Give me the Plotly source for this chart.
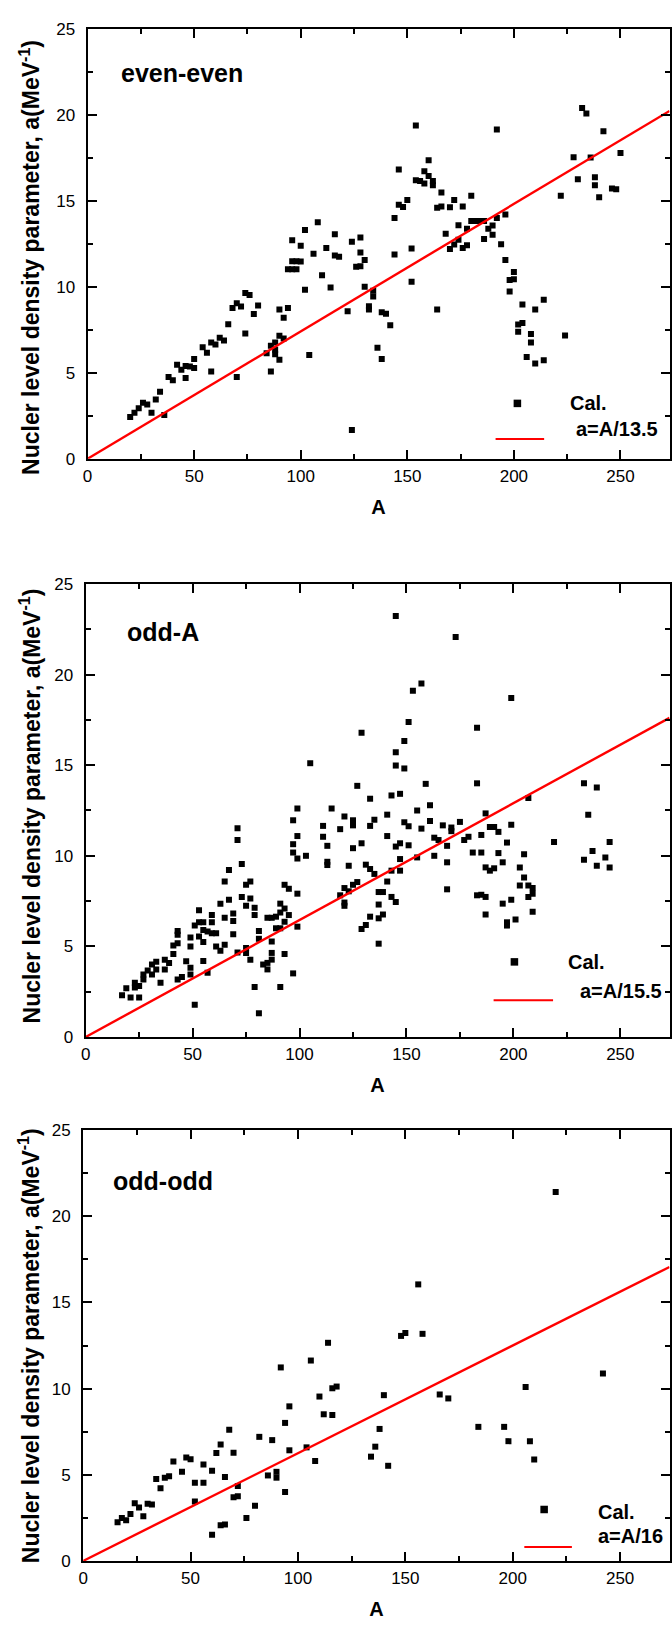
import plotly.graph_objects as go

# ---------------- data ----------------
ee_A = [20, 22, 24, 26, 28, 30, 32, 34, 36, 38, 40, 42, 44, 46, 46, 48, 50, 50, 54, 56,
        58, 58, 60, 62, 64, 66, 68, 70, 70, 72, 74, 74, 76, 78, 80, 84, 86, 86, 88, 88,
        88, 90, 90, 92, 90, 92, 94, 104, 122, 124, 132, 132, 136, 138, 140, 138, 142, 164, 204, 202,
        202, 204, 206, 208, 208, 210, 210, 214, 224,
        96, 100, 94, 96, 98, 96, 98, 100, 102, 102, 106, 108, 110, 112, 114, 116, 116, 118, 124, 128,
        126, 128, 128, 130, 130, 134, 134, 144, 144, 146, 146, 148, 150, 152, 152, 154, 154, 156, 158, 158,
        160, 160, 162, 162, 166, 164, 166, 170, 172, 176, 180, 168, 174, 170, 172, 174, 176, 178, 178, 180,
        182, 184, 186, 186, 188, 190, 190, 192, 196, 192, 194, 196, 198, 200, 200, 198, 214, 222, 228, 230,
        232, 234, 236, 238, 238, 240, 242, 246, 248, 250]
ee_a = [2.43, 2.68, 2.93, 3.26, 3.16, 2.68, 3.45, 3.89, 2.55, 4.75, 4.56, 5.46, 5.17, 4.69, 5.40, 5.36, 5.27, 5.80, 6.48, 6.17,
        5.08, 6.76, 6.65, 7.03, 6.88, 7.82, 8.77, 9.04, 4.75, 8.85, 7.28, 9.64, 9.52, 8.41, 8.91, 6.13, 6.57, 5.08, 6.76, 6.34,
        6.07, 8.68, 7.15, 6.99, 5.75, 8.20, 8.77, 6.03, 8.58, 1.67, 8.87, 8.68, 6.46, 8.52, 8.43, 5.80, 7.76, 8.68, 8.97, 7.38,
        7.80, 7.89, 5.92, 7.26, 6.76, 8.68, 5.54, 5.73, 7.16,
        12.70, 12.39, 11.02, 11.02, 11.02, 11.49, 11.49, 11.47, 13.30, 9.83, 11.92, 13.75, 10.67, 12.26, 9.96, 13.05, 11.82, 11.74, 12.61, 12.87,
        11.17, 11.19, 11.99, 11.55, 10.00, 9.77, 9.43, 14.00, 11.88, 16.82, 14.77, 14.64, 15.04, 12.22, 10.29, 19.37, 16.19, 16.15, 16.00, 16.71,
        17.36, 16.44, 16.15, 15.90, 15.48, 14.60, 14.66, 14.62, 15.04, 14.66, 15.29, 13.08, 13.58, 12.20, 12.45, 12.74, 12.26, 12.41, 13.37, 13.83,
        13.83, 13.83, 13.83, 12.78, 13.37, 13.56, 13.03, 14.00, 14.20, 19.14, 12.47, 11.55, 10.40, 10.44, 10.86, 9.73, 9.25, 15.29, 17.53, 16.25,
        20.40, 20.08, 17.51, 16.36, 15.90, 15.21, 19.04, 15.71, 15.67, 17.78]

oa_A = [145, 173, 153, 157, 199, 151, 129, 183, 149, 145, 145, 149, 105, 127, 159, 183, 233, 239, 133, 143,
        147, 207, 115, 99, 97, 161, 155, 141, 121, 235, 187, 125, 125, 135, 161, 149, 151, 175, 111, 133,
        71, 119, 157, 167, 171, 171, 189, 191, 193, 199,
        71, 99, 97, 97, 99, 103, 111, 113, 113, 113, 125, 129, 123, 131, 133, 135, 141, 145, 147, 151,
        147, 143, 147, 155, 163, 163, 165, 169, 169, 169, 177, 179, 181, 185, 185, 183, 185, 187, 187, 187,
        189, 191, 193, 195, 197, 195, 197, 197, 199, 201, 205, 203, 205, 203, 207, 209, 207, 209, 209, 219,
        233, 237, 239, 243, 245, 245,
        17, 19, 21, 23, 23, 25, 25, 27, 27, 29, 31, 31, 33, 33, 35, 37, 37, 39, 41, 41,
        43, 43, 43, 47, 43, 45, 49, 49, 49, 49, 51, 53, 51, 53, 53, 55, 55, 55, 55, 57,
        57, 59, 59, 59, 61, 61, 63, 63, 65, 65, 65, 67, 67, 69, 69, 69, 71, 73, 73, 75,
        77, 75, 75, 75, 77, 77, 79, 79, 79, 81, 81, 81, 83, 85, 87, 85, 87, 85, 87, 87,
        89, 89, 91, 91, 91, 91, 93, 93, 93, 95, 93, 95, 97, 99, 99, 119, 121, 121, 121, 123,
        125, 127, 129, 131, 133, 137, 139, 137, 137, 139, 137, 141, 143, 145]
oa_a = [23.24, 22.07, 19.11, 19.51, 18.71, 17.39, 16.79, 17.07, 16.34, 15.72, 14.98, 14.82, 15.11, 13.86, 13.97, 14.00, 14.00, 13.77, 13.15, 13.33,
        13.42, 13.19, 12.61, 12.61, 11.96, 12.79, 12.50, 12.27, 12.17, 12.27, 12.34, 11.96, 11.68, 11.99, 11.92, 11.85, 11.63, 11.87, 11.65, 11.65,
        11.52, 11.47, 11.50, 11.68, 11.56, 11.36, 11.59, 11.59, 11.32, 11.72,
        10.87, 11.09, 10.64, 10.18, 9.85, 10.00, 11.05, 10.55, 9.67, 9.49, 10.42, 10.69, 9.45, 9.51, 9.27, 9.00, 11.09, 10.51, 10.69, 10.58,
        9.82, 9.18, 9.18, 9.91, 10.00, 11.00, 10.87, 10.55, 9.64, 8.15, 10.87, 11.05, 10.18, 11.15, 10.18, 7.82, 7.85, 7.73, 6.76, 9.36,
        9.18, 9.31, 10.15, 9.64, 10.73, 7.36, 6.33, 6.15, 7.58, 6.49, 10.09, 9.36, 8.80, 8.36, 8.36, 8.22, 7.73, 7.91, 6.91, 10.76,
        9.78, 10.27, 9.45, 9.91, 10.76, 9.36,
        2.31, 2.69, 2.18, 2.73, 3.00, 2.18, 2.82, 3.18, 3.45, 3.67, 3.45, 4.00, 3.73, 4.15, 3.00, 3.73, 4.27, 4.09, 4.58, 5.05,
        5.85, 5.64, 5.18, 4.18, 3.18, 3.31, 3.45, 5.00, 3.82, 5.49, 6.15, 6.33, 1.78, 5.55, 7.00, 6.33, 5.91, 5.24, 4.20, 5.82,
        3.55, 5.73, 6.33, 6.73, 5.73, 5.00, 4.76, 7.36, 6.58, 5.09, 8.58, 7.58, 9.22, 6.82, 6.40, 5.67, 4.67, 9.55, 7.73, 8.40,
        8.58, 7.24, 4.91, 4.64, 7.64, 4.27, 7.13, 6.73, 2.76, 5.85, 5.42, 1.31, 4.00, 6.58, 6.58, 4.09, 4.27, 3.73, 4.64, 5.27,
        6.00, 6.64, 6.00, 6.87, 7.36, 2.76, 7.09, 6.36, 8.40, 8.18, 4.58, 6.73, 3.51, 7.91, 6.09, 7.82, 8.22, 7.24, 7.42, 8.04,
        8.40, 8.55, 5.96, 6.18, 6.64, 8.00, 8.00, 7.31, 6.55, 6.76, 5.15, 8.58, 7.73, 7.45]

oo_A = [220, 156, 148, 150, 158, 114, 106, 92, 242, 116, 118, 206,
        16, 18, 20, 22, 24, 26, 28, 30, 32, 34, 36, 38, 40, 42, 46, 48, 50, 52,
        52, 56, 56, 60, 60, 62, 64, 64, 66, 66, 68, 70, 70, 72, 72, 76, 80, 82, 86, 88,
        90, 90, 94, 94, 96, 96, 104, 108, 110, 112, 116, 134, 136, 138, 140, 142, 166, 170, 184, 196,
        198, 208, 210]
oo_a = [21.42, 16.05, 13.06, 13.23, 13.18, 12.66, 11.63, 11.23, 10.88, 10.02, 10.12, 10.10,
        2.24, 2.49, 2.36, 2.72, 3.35, 3.10, 2.59, 3.31, 3.28, 4.75, 4.21, 4.83, 4.92, 5.77, 5.17, 6.00, 5.90, 4.54,
        3.45, 4.54, 5.59, 5.23, 1.51, 6.26, 6.76, 2.07, 2.11, 4.87, 7.61, 6.28, 3.70, 3.75, 4.35, 2.49, 3.20, 7.20, 4.96, 7.01,
        5.17, 4.83, 8.01, 4.00, 8.97, 6.42, 6.59, 5.80, 9.54, 8.51, 8.47, 6.05, 6.63, 7.66, 9.62, 5.52, 9.66, 9.43, 7.78, 7.78,
        6.95, 6.95, 5.88]

panel_names = ["even-even", "odd-A", "odd-odd"]
fit_divisors = [13.5, 15.5, 16]
fit_labels = ["a=A/13.5", "a=A/15.5", "a=A/16"]
series_name = "Cal."
x_title = "A"
y_title = "Nucler level density parameter, a(MeV<sup>-1</sup>)"
x_range = [0, 273]
y_range = [0, 25]

# ---------------- layout geometry (pixels) ----------------
W, H = 672, 1647
FONT = "Arial, Liberation Sans, sans-serif"
panels = [
    dict(l=83.3, r=670.5, t=20.0, b=455.0, ylab=251, name=(115, 65),
         mk=(517, 399), cal=(568, 399), ln=(495, 544, 435), fit=(574, 425)),
    dict(l=81.4, r=670.5, t=581.7, b=1040.0, ylab=806, name=(121, 630),
         mk=(514, 964), cal=(566, 964), ln=(493, 553, 1002.7), fit=(578, 993)),
    dict(l=78.9, r=670.5, t=1134.3, b=1570.0, ylab=1352, name=(107, 1185.5),
         mk=(544, 1518), cal=(596, 1521), ln=(524, 572, 1556), fit=(596, 1545)),
]
data = [(ee_A, ee_a), (oa_A, oa_a), (oo_A, oo_a)]


def px(x):
    return x / W


def py(y):
    return 1 - y / H


def bold(size):
    return dict(family=FONT, size=size, color="black", weight="bold")


fig = go.Figure()
annotations = []
shapes = []
layout_axes = {}

for i, (p, (xs, ys)) in enumerate(zip(panels, data)):
    n = "" if i == 0 else str(i + 1)
    xa, ya = "x" + n, "y" + n
    fig.add_trace(go.Scatter(x=xs, y=ys, mode="markers", name=series_name, xaxis=xa, yaxis=ya,
                             marker=dict(symbol="square", size=6, color="black", line=dict(width=0)),
                             showlegend=False, hoverinfo="skip"))
    d = fit_divisors[i]
    fig.add_trace(go.Scatter(x=[x_range[0], x_range[1]], y=[x_range[0] / d, x_range[1] / d],
                             mode="lines", name=fit_labels[i], xaxis=xa, yaxis=ya,
                             line=dict(color="#ff0000", width=2.4), showlegend=False, hoverinfo="skip"))
    common = dict(showline=True, linecolor="black", linewidth=2, mirror="allticks",
                  ticks="inside", ticklen=9, tickwidth=2, tickcolor="black",
                  showgrid=False, zeroline=False,
                  tickfont=dict(family=FONT, size=17, color="black"))
    layout_axes["xaxis" + n] = dict(common, domain=[px(p["l"]), px(p["r"])], range=x_range,
                                    anchor=ya, tickmode="linear", tick0=0, dtick=50,
                                    ticklabelstandoff=1,
                                    title=dict(text=x_title, standoff=15, font=bold(20)),
                                    minor=dict(ticks="inside", ticklen=5, tickwidth=2, tickcolor="black",
                                               dtick=25, tick0=0, showgrid=False))
    layout_axes["yaxis" + n] = dict(common, domain=[py(p["b"]), py(p["t"])], range=y_range,
                                    anchor=xa, tickmode="linear", tick0=0, dtick=5,
                                    ticklabelstandoff=7,
                                    minor=dict(ticks="inside", ticklen=5, tickwidth=2, tickcolor="black",
                                               dtick=2.5, tick0=0, showgrid=False))
    # y-axis title (placed as in the reference)
    annotations.append(dict(text=y_title, x=px(25), y=py(p["ylab"]), textangle=-90,
                            xref="paper", yref="paper", xanchor="center", yanchor="middle",
                            showarrow=False, font=bold(23)))
    # panel name
    annotations.append(dict(text=panel_names[i], x=px(p["name"][0]), y=py(p["name"][1]),
                            xref="paper", yref="paper", xanchor="left", yanchor="middle",
                            showarrow=False, font=bold(25)))
    # legend (Origin style)
    mx, my = p["mk"]
    shapes.append(dict(type="rect", xref="paper", yref="paper",
                       x0=px(mx - 3.8), x1=px(mx + 3.8), y0=py(my + 3.8), y1=py(my - 3.8),
                       fillcolor="black", line=dict(width=0)))
    x0, x1, ly = p["ln"]
    shapes.append(dict(type="line", xref="paper", yref="paper", x0=px(x0), x1=px(x1), y0=py(ly), y1=py(ly),
                       line=dict(color="#ff0000", width=2)))
    annotations.append(dict(text=series_name, x=px(p["cal"][0]), y=py(p["cal"][1]),
                            xref="paper", yref="paper", xanchor="left", yanchor="middle",
                            showarrow=False, font=bold(20)))
    annotations.append(dict(text=fit_labels[i], x=px(p["fit"][0]), y=py(p["fit"][1]),
                            xref="paper", yref="paper", xanchor="left", yanchor="middle",
                            showarrow=False, font=bold(20)))

fig.update_layout(width=W, height=H, margin=dict(l=0, r=0, t=0, b=0, pad=0),
                  paper_bgcolor="white", plot_bgcolor="white", showlegend=False,
                  hovermode=False,
                  annotations=annotations, shapes=shapes, **layout_axes)

fig.write_html("out.html", config={"displayModeBar": False, "staticPlot": True},
               post_script="document.body.style.margin='0px';document.body.style.padding='0px';"
                           "document.body.style.overflow='hidden';"
                           "document.documentElement.style.overflow='hidden';")
